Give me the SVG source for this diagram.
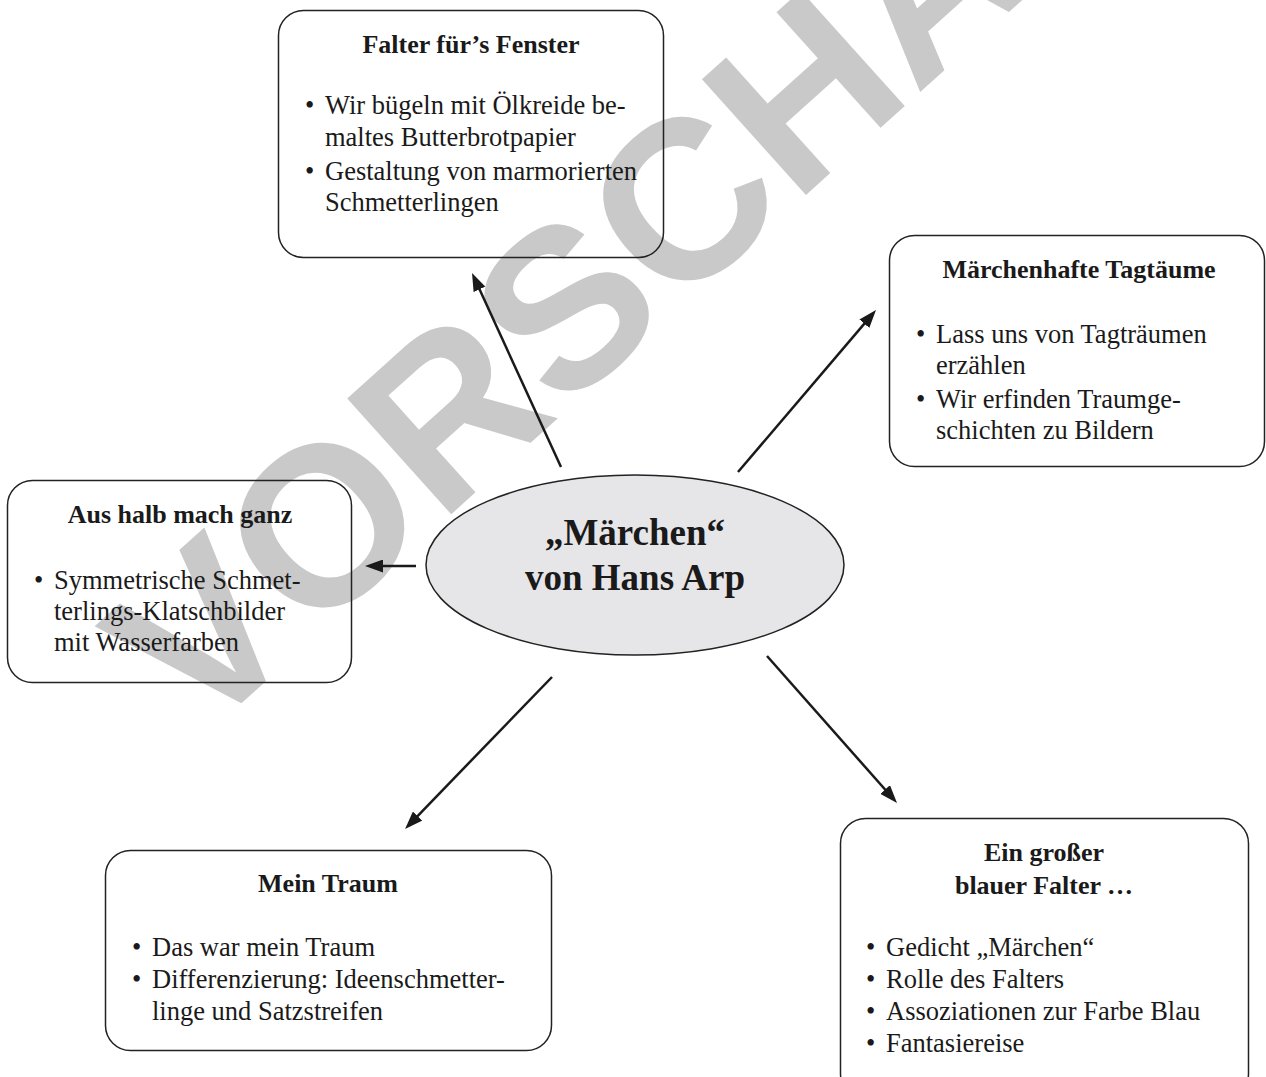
<svg xmlns="http://www.w3.org/2000/svg" width="1266" height="1077" viewBox="0 0 1266 1077">
<style>
.box{fill:none;stroke:#222;stroke-width:1.5}
.t{font-family:"Liberation Serif","Times New Roman",serif;font-size:26.5px;fill:#1a1a1a}
.h{font-family:"Liberation Serif","Times New Roman",serif;font-size:26px;font-weight:bold;fill:#1a1a1a;text-anchor:middle}
.c{font-family:"Liberation Serif","Times New Roman",serif;font-size:37px;font-weight:bold;fill:#1a1a1a;text-anchor:middle}
.a{stroke:#1a1a1a;stroke-width:2.5;fill:none;marker-end:url(#ah)}
.wm{font-family:"Liberation Sans",Arial,sans-serif;font-weight:bold;font-size:226px;fill:#c9c9c9;text-anchor:middle}
</style>
<defs>
<marker id="ah" viewBox="0 0 18 13" refX="8" refY="6.5" markerWidth="18" markerHeight="13" markerUnits="userSpaceOnUse" orient="auto">
<path d="M0,0 L18,6.5 L0,13 z" fill="#1a1a1a"/>
</marker>
</defs>
<rect width="1266" height="1077" fill="#fff"/>
<text class="wm" x="678" y="310" transform="rotate(-42 678 310)">VORSCHAU</text>

<g id="connectors">
<path class="a" d="M561,467 L476.2,282.1"/>
<path class="a" d="M738,472 L869.5,317.6"/>
<path class="a" d="M416,566 L375,566"/>
<path class="a" d="M552,677 L412,821.8"/>
<path class="a" d="M767,656 L890.4,795.5"/>
</g>

<g id="center">
<ellipse cx="635" cy="565" rx="209" ry="90" fill="#e6e6e8" stroke="#222" stroke-width="1.5"/>
<text class="c" x="635" y="545">„Märchen“</text>
<text class="c" x="635" y="590">von Hans Arp</text>
</g>

<g id="falter-fenster">
<rect class="box" x="278.5" y="10.5" width="385" height="247" rx="25"/>
<text class="h" x="471" y="53">Falter für’s Fenster</text>
<text class="t" x="305" y="114">•</text><text class="t" x="325" y="114">Wir bügeln mit Ölkreide be-</text>
<text class="t" x="325" y="146">maltes Butterbrotpapier</text>
<text class="t" x="305" y="180">•</text><text class="t" x="325" y="180">Gestaltung von marmorierten</text>
<text class="t" x="325" y="211">Schmetterlingen</text>
</g>

<g id="tagtraeume">
<rect class="box" x="889.5" y="235.5" width="375" height="231" rx="25"/>
<text class="h" x="1079" y="278">Märchenhafte Tagtäume</text>
<text class="t" x="916" y="343">•</text><text class="t" x="936" y="343">Lass uns von Tagträumen</text>
<text class="t" x="936" y="374">erzählen</text>
<text class="t" x="916" y="408">•</text><text class="t" x="936" y="408">Wir erfinden Traumge-</text>
<text class="t" x="936" y="439">schichten zu Bildern</text>
</g>

<g id="aus-halb">
<rect class="box" x="7.5" y="480.5" width="344" height="202" rx="25"/>
<text class="h" x="180" y="523">Aus halb mach ganz</text>
<text class="t" x="34" y="589">•</text><text class="t" x="54" y="589">Symmetrische Schmet-</text>
<text class="t" x="54" y="620">terlings-Klatschbilder</text>
<text class="t" x="54" y="651">mit Wasserfarben</text>
</g>

<g id="mein-traum">
<rect class="box" x="105.5" y="850.5" width="446" height="200" rx="25"/>
<text class="h" x="328" y="892">Mein Traum</text>
<text class="t" x="132" y="956">•</text><text class="t" x="152" y="956">Das war mein Traum</text>
<text class="t" x="132" y="988">•</text><text class="t" x="152" y="988">Differenzierung: Ideenschmetter-</text>
<text class="t" x="152" y="1020">linge und Satzstreifen</text>
</g>

<g id="blauer-falter">
<rect class="box" x="840.5" y="818.5" width="408" height="280" rx="25"/>
<text class="h" x="1044" y="861">Ein großer</text>
<text class="h" x="1044" y="894">blauer Falter …</text>
<text class="t" x="866" y="956">•</text><text class="t" x="886" y="956">Gedicht „Märchen“</text>
<text class="t" x="866" y="988">•</text><text class="t" x="886" y="988">Rolle des Falters</text>
<text class="t" x="866" y="1020">•</text><text class="t" x="886" y="1020">Assoziationen zur Farbe Blau</text>
<text class="t" x="866" y="1052">•</text><text class="t" x="886" y="1052">Fantasiereise</text>
</g>
</svg>
